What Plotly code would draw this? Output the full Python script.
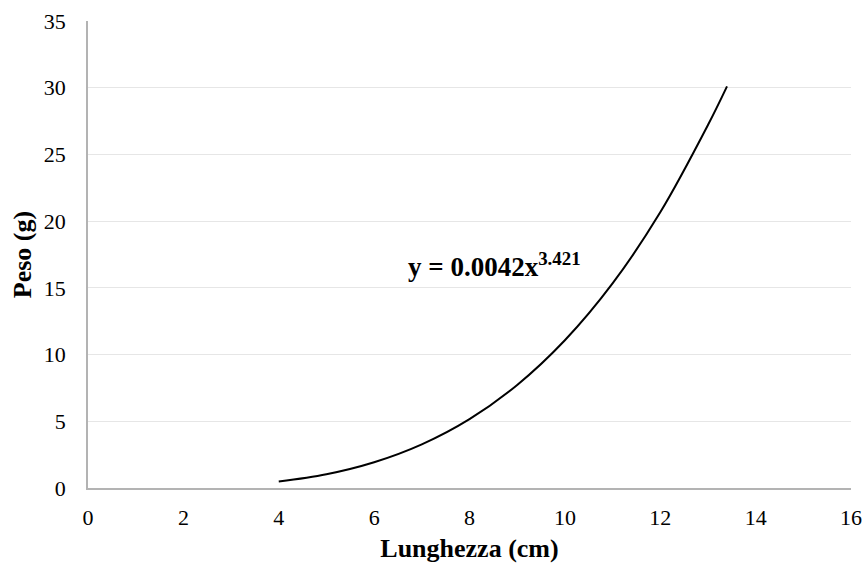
import plotly.graph_objects as go

# Values (trend curve points)
lunghezza = [4.0, 5.0, 6.0, 7.0, 8.0, 9.0, 10.0, 11.0, 12.0, 13.0, 13.4]
peso = [0.48, 1.03, 1.93, 3.27, 5.16, 7.72, 11.07, 15.33, 20.66, 27.2, 30.1]

x_ticks = [0, 2, 4, 6, 8, 10, 12, 14, 16]
y_ticks = [0, 5, 10, 15, 20, 25, 30, 35]

font_family = "Liberation Serif, Times New Roman, serif"

fig = go.Figure()
fig.add_trace(go.Scatter(
    x=lunghezza, y=peso, mode="lines", line=dict(color="black", width=2, shape="spline"),
    showlegend=False, hoverinfo="skip"))

fig.add_annotation(
    x=8.53, y=16.7, xref="x", yref="y", showarrow=False,
    text="<b>y = 0.0042x<sup>3.421</sup></b>",
    font=dict(family=font_family, size=27, color="black"))

fig.update_layout(
    width=866, height=569,
    margin=dict(l=88, r=15, t=21, b=81),
    paper_bgcolor="white", plot_bgcolor="white",
    font=dict(family=font_family, size=22, color="black"),
    xaxis=dict(range=[0, 16], tickvals=x_ticks, ticktext=[str(v) for v in x_ticks],
               showgrid=False, zeroline=False, showline=True, linecolor="#b3b3b3", linewidth=1.5,
               ticks="", ticklabelstandoff=9, automargin=False,
               title=dict(text="<b>Lunghezza (cm)</b>", font=dict(size=26), standoff=10)),
    yaxis=dict(range=[0, 35], tickvals=y_ticks, ticktext=[str(v) for v in y_ticks],
               showgrid=True, gridcolor="#e6e6e6", gridwidth=1, zeroline=False,
               showline=True, linecolor="#b3b3b3", linewidth=1.5, ticks="",
               ticklabelstandoff=16, automargin=False,
               title=dict(text="<b>Peso (g)</b>", font=dict(size=26), standoff=5)),
)

fig.write_html("out.html", config={"displayModeBar": False},
               post_script="document.body.style.margin='0';document.body.style.overflow='hidden';")
